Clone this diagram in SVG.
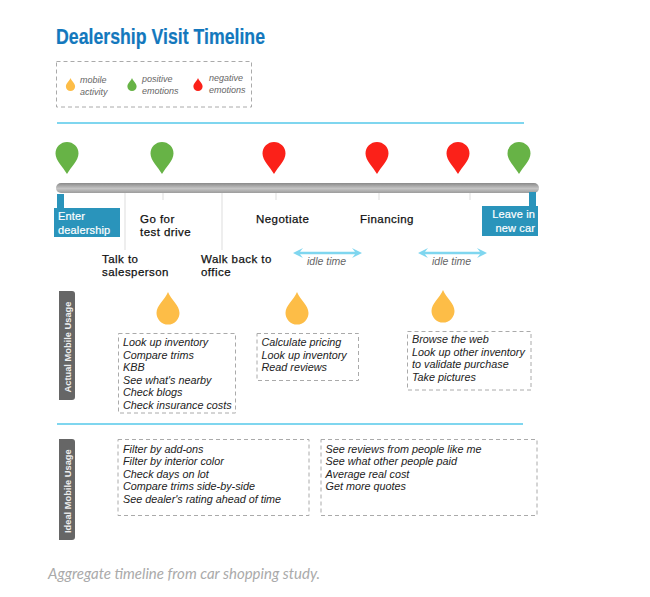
<svg xmlns="http://www.w3.org/2000/svg" width="650" height="597" viewBox="0 0 650 597">
<style>
text{font-family:"Liberation Sans",Arial,sans-serif}
.dash{fill:none;stroke:#aaa;stroke-width:1;stroke-dasharray:4 3}
.item{font-size:10.800px;font-style:italic;fill:#222}
.step{font-size:11.500px;letter-spacing:.45px;fill:#111;stroke:#111;stroke-width:.25}
.wt{font-size:11px;letter-spacing:.15px;fill:#fff;stroke:#fff;stroke-width:.2}
.leg{font-size:9px;font-style:italic;fill:#666}
.idle{font-size:10.500px;font-style:italic;fill:#666}
.side{font-size:9.300px;font-weight:bold;fill:#eee}
.g{fill:#67b346}.r{fill:#fb2119}.o{fill:#fdbd47}
.blue{fill:#2a94bb}
.rule{stroke:#7fd6ef;stroke-width:2;fill:none}
.tick{stroke:#ddd;stroke-width:1;fill:none}
.sb{fill:#666}
</style>
<defs>
<linearGradient id="bar" x1="0" y1="0" x2="0" y2="1">
<stop offset="0" stop-color="#8a8a8a"/><stop offset=".55" stop-color="#c4c4c4"/><stop offset="1" stop-color="#9c9c9c"/>
</linearGradient>
<path id="pin" d="M0 32 C-4 25 -11.500 18.500 -11.500 11.500 A11.500 11.500 0 0 1 11.500 11.500 C11.500 18.500 4 25 0 32Z"/>
<path id="drop" d="M0 0 C3 8 11.500 13 11.500 21 A11.500 11.500 0 0 1 -11.500 21 C-11.500 13 -3 8 0 0Z"/>
<path id="dbl" d="M0 0 L10 -5 L7 -1.200 L62 -1.200 L59 -5 L69 0 L59 5 L62 1.200 L7 1.200 L10 5Z"/>
</defs>
<rect width="650" height="597" fill="#fff"/>

<text id="title" x="56" y="44" font-size="21.500" font-weight="bold" fill="#1378bd" stroke="#1378bd" stroke-width=".2" textLength="209" lengthAdjust="spacingAndGlyphs">Dealership Visit Timeline</text>

<g id="legend">
<rect class="dash" x="56.500" y="61.500" width="195" height="45.500"/>
<use href="#drop" class="o" transform="translate(70.500 78) scale(.4 .4)"/>
<text class="leg" x="80" y="83">mobile</text><text class="leg" x="80" y="95">activity</text>
<use href="#drop" class="g" transform="translate(132 78) scale(.4 .4)"/>
<text class="leg" x="142" y="82">positive</text><text class="leg" x="142" y="94">emotions</text>
<use href="#drop" class="r" transform="translate(198 78) scale(.4 .4)"/>
<text class="leg" x="209" y="81">negative</text><text class="leg" x="209" y="93">emotions</text>
</g>

<g id="connectors">
<path class="rule" d="M57 123H524"/>
<path class="rule" d="M57 424H523"/>
<path class="tick" d="M125 193V250M163 193V200M222 193V250M276 193V200M379 193V200M470 193V200"/>
<use href="#dbl" fill="#7fd6ef" transform="translate(293 253)"/>
<use href="#dbl" fill="#7fd6ef" transform="translate(418 253)"/>
</g>

<g id="timeline-bar"><rect x="56" y="183" width="483" height="10" rx="5" fill="url(#bar)"/></g>

<g id="pin-1"><use href="#pin" class="g" transform="translate(67 142)"/></g>
<g id="pin-2"><use href="#pin" class="g" transform="translate(162 142)"/></g>
<g id="pin-3"><use href="#pin" class="r" transform="translate(274 142)"/></g>
<g id="pin-4"><use href="#pin" class="r" transform="translate(377 142)"/></g>
<g id="pin-5"><use href="#pin" class="r" transform="translate(458 142)"/></g>
<g id="pin-6"><use href="#pin" class="g" transform="translate(519 142)"/></g>

<g id="enter">
<rect class="blue" x="57" y="194" width="7" height="14"/>
<rect class="blue" x="54" y="208" width="66" height="29"/>
<text class="wt" x="58" y="220">Enter</text><text class="wt" x="58" y="234">dealership</text>
</g>
<g id="leave">
<rect class="blue" x="529" y="192" width="7" height="14"/>
<rect class="blue" x="482" y="206" width="56" height="30"/>
<text class="wt" x="535" y="218" text-anchor="end">Leave in</text><text class="wt" x="535" y="232" text-anchor="end">new car</text>
</g>

<g id="go"><text class="step" x="140" y="223">Go for</text><text class="step" x="140" y="235.500">test drive</text></g>
<g id="talk"><text class="step" x="102" y="263">Talk to</text><text class="step" x="102" y="275.500">salesperson</text></g>
<g id="walk"><text class="step" x="201" y="263">Walk back to</text><text class="step" x="201" y="276">office</text></g>
<g id="negotiate"><text class="step" x="256" y="223">Negotiate</text></g>
<g id="financing"><text class="step" x="360" y="223">Financing</text></g>
<text class="idle" x="307" y="265">idle time</text>
<text class="idle" x="432" y="265">idle time</text>

<g id="actual-label">
<path class="sb" d="M59 291H72Q75 291 75 294V397Q75 400 72 400H59Z"/>
<text class="side" transform="translate(70.500 392.500) rotate(-90)">Actual Mobile Usage</text>
</g>
<g id="ideal-label">
<path class="sb" d="M59 439H72Q75 439 75 442V537Q75 540 72 540H59Z"/>
<text class="side" transform="translate(70.500 533) rotate(-90)">Ideal Mobile Usage</text>
</g>

<g id="drop-1"><use href="#drop" class="o" transform="translate(168 292)"/></g>
<g id="drop-2"><use href="#drop" class="o" transform="translate(297 292)"/></g>
<g id="drop-3"><use href="#drop" class="o" transform="translate(443 290)"/></g>

<g id="actual-1">
<rect class="dash" x="118.500" y="333.500" width="117" height="79.500"/>
<text class="item" x="123" y="346">Look up inventory</text>
<text class="item" x="123" y="358.500">Compare trims</text>
<text class="item" x="123" y="371">KBB</text>
<text class="item" x="123" y="383.500">See what's nearby</text>
<text class="item" x="123" y="396">Check blogs</text>
<text class="item" x="123" y="408.500">Check insurance costs</text>
</g>
<g id="actual-2">
<rect class="dash" x="257" y="333.500" width="101.500" height="47"/>
<text class="item" x="261.500" y="346">Calculate pricing</text>
<text class="item" x="261.500" y="358.500">Look up inventory</text>
<text class="item" x="261.500" y="371">Read reviews</text>
</g>
<g id="actual-3">
<rect class="dash" x="407.500" y="331.500" width="123.500" height="58.500"/>
<text class="item" x="412" y="343">Browse the web</text>
<text class="item" x="412" y="355.500">Look up other inventory</text>
<text class="item" x="412" y="368">to validate purchase</text>
<text class="item" x="412" y="380.500">Take pictures</text>
</g>
<g id="ideal-1">
<rect class="dash" x="118" y="439.500" width="191" height="76"/>
<text class="item" x="123" y="453">Filter by add-ons</text>
<text class="item" x="123" y="465">Filter by interior color</text>
<text class="item" x="123" y="478">Check days on lot</text>
<text class="item" x="123" y="490">Compare trims side-by-side</text>
<text class="item" x="123" y="502.500">See dealer's rating ahead of time</text>
</g>
<g id="ideal-2">
<rect class="dash" x="321" y="439.500" width="216" height="76"/>
<text class="item" x="325.500" y="453">See reviews from people like me</text>
<text class="item" x="325.500" y="465">See what other people paid</text>
<text class="item" x="325.500" y="478">Average real cost</text>
<text class="item" x="325.500" y="490">Get more quotes</text>
</g>

<text id="caption" x="48" y="578.500" font-size="14.500" font-style="italic" fill="#aaa" textLength="272" lengthAdjust="spacingAndGlyphs" style="font-family:Lato,sans-serif">Aggregate timeline from car shopping study.</text>
</svg>
